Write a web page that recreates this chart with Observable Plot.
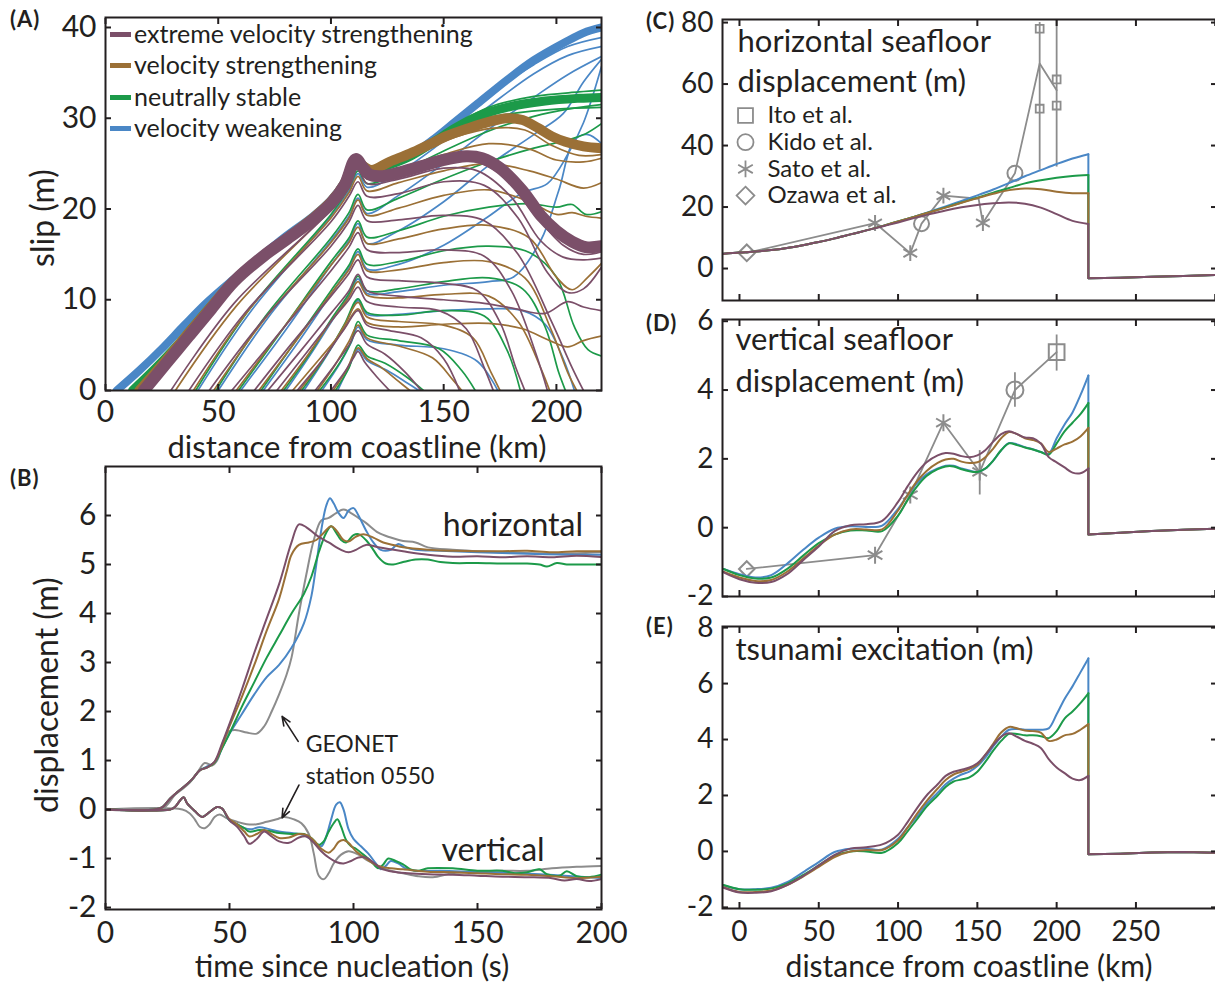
<!DOCTYPE html>
<html><head><meta charset="utf-8">
<script src="https://cdn.jsdelivr.net/npm/d3@7"></script>
<script src="https://cdn.jsdelivr.net/npm/@observablehq/plot@0.6"></script>
<style>
html,body{margin:0;padding:0;background:#fff;overflow:hidden;}
#fig{position:relative;width:1215px;height:984px;font-family:Lato,"Open Sans",sans-serif;color:#231f20;overflow:hidden;}
.panel{position:absolute;}
.plet{position:absolute;font-size:22px;font-weight:bold;line-height:1;letter-spacing:1px;}
.ttl{position:absolute;font-size:31px;white-space:nowrap;line-height:0.9;transform:translate(-50%,-50%);}
.ttl.low{font-size:30px;}
.ttl.rot{transform:translate(-50%,-50%) rotate(-90deg);font-size:32px;}
.leg{position:absolute;font-size:25px;white-space:nowrap;line-height:1;}
.leg i{position:absolute;left:-24px;top:50%;width:21px;height:5px;margin-top:-2px;}
</style></head><body><div id="fig"></div>
<script>
// ---------------- colours ----------------
const INK = "#231f20";
const C_PURPLE = "#7b4f69", C_BROWN = "#9b7036", C_GREEN = "#1c9a49", C_BLUE = "#4a87c6", C_GRAY = "#8c8c8c";

// ---------------- Panel A: slip snapshots [km, m] ----------------
const slipBlueThin = [
 [[103,0],[108,2.6],[112,4.5],[116,3.3],[125,2.2],[134,0.8],[139,0]],
 [[96,0],[104,3],[109,5.3],[112,7],[116,5.6],[130,5],[150,4.6],[165,3.2],[174,0]],
 [[88,0],[98,3.8],[106,7.1],[112,9.9],[116,8.4],[130,8.4],[150,8.8],[170,9],[185,8.8],[195,7.3],[203,3.5],[208,0]],
 [[80,0],[91,4],[100,7.5],[108,10.5],[112,12.3],[116,10.7],[130,10.9],[150,11.6],[170,12],[181,12.5],[193,16.5],[201,22],[208,27.6],[214,28.2],[220,27.2]],
 [[70,0],[86,5.5],[100,10.6],[108,13.5],[112,15.3],[116,13.4],[130,13.9],[150,16],[170,19.2],[185,21.8],[196,22.8],[205,26],[212,29.5],[220,35.7]],
 [[60,0],[80,6.7],[100,13.8],[108,16.5],[112,18.4],[116,16.2],[130,17.6],[150,20.8],[170,24.8],[190,28.2],[203,30.5],[212,34],[220,36.5]],
 [[50,0],[72,8],[100,16.5],[108,19.2],[112,21.2],[116,19.5],[130,21.5],[150,25],[170,28.8],[190,32.3],[205,34.8],[220,36.8]],
 [[41,0],[65,8.9],[100,19.2],[108,22],[112,23.9],[116,22.4],[130,24],[150,27.5],[170,31.3],[190,34.9],[205,36.9],[220,37.9]],
 [[111,25.3],[118,24.2],[135,25.7],[155,29.4],[170,32.6],[190,35.9],[205,37.9],[220,38.9]]
];
const slipGreenThin = [
 [[102,0],[108,2.5],[112,5],[116,3.8],[124,3],[134,1.4],[141,0]],
 [[95,0],[104,3.1],[109,5.4],[112,7.6],[116,6.1],[130,5.5],[148,4.6],[158,2.2],[164,0]],
 [[87,0],[98,3.9],[106,7.3],[112,10.1],[116,8.6],[130,8.3],[150,8.8],[168,8.2],[178,4.5],[184,0]],
 [[79,0],[91,4.2],[100,7.8],[108,10.7],[112,12.6],[116,11],[130,11.2],[150,12],[170,12.4],[185,11.2],[195,7],[201,2],[204,0]],
 [[69,0],[85,5.7],[100,11],[108,13.8],[112,15.6],[116,13.9],[130,14.2],[150,15.4],[170,15.9],[188,15.2],[200,12.5],[208,7],[214,4.5],[220,3.8]],
 [[59,0],[79,6.9],[100,14.2],[108,16.8],[112,18.7],[116,16.9],[130,17.6],[150,19.2],[170,20.2],[188,20.6],[200,20.2],[207,20.5],[213,19.4],[220,19.7]],
 [[49,0],[71,8.2],[100,16.8],[108,19.6],[112,21.6],[116,19.9],[130,21.2],[150,23.3],[170,25.2],[190,26.7],[205,27.6],[213,28.3],[220,29.4]],
 [[40,0],[64,9],[100,19.4],[108,22.3],[112,24.2],[116,22.8],[130,24],[150,26.4],[170,28.6],[190,30.2],[205,31],[220,31.5]],
 [[111,25.3],[118,24.2],[135,25.6],[155,28.6],[165,29.8],[180,30.5],[200,31],[220,31.2]],
 [[111,25.3],[118,24.3],[135,25.9],[155,29.2],[170,31.2],[190,32.4],[210,32.9],[220,33.1]]
];
const slipBrownThin = [
 [[101,0],[107,2.3],[112,4.7],[116,3.5],[122,2.6],[130,1],[135,0]],
 [[94,0],[102,2.9],[108,5.4],[112,7.2],[116,5.8],[130,4.9],[145,3.6],[154,1.2],[158,0]],
 [[86,0],[97,3.6],[106,7.2],[112,9.7],[116,8.1],[130,7.6],[150,7.2],[163,5.8],[171,2],[175,0]],
 [[83,0],[95,3.5],[105,6.5],[112,9],[116,7.5],[130,7],[150,7.3],[170,7.4],[185,6.8],[197,5.5],[205,4.8],[212,5.5],[220,6]],
 [[78,0],[90,4],[100,7.6],[108,10.3],[112,12],[116,10.5],[130,10.2],[150,10.6],[170,10.4],[183,7.6],[193,2.5],[197,0]],
 [[68,0],[84,5.3],[100,10.7],[108,13.3],[112,15],[116,13.2],[130,13.3],[150,14.1],[170,14.2],[186,12.4],[198,6.5],[205,2],[209,0]],
 [[58,0],[78,6.6],[100,13.8],[108,16.3],[112,18],[116,16.2],[130,16.7],[150,17.8],[170,18.2],[188,16.8],[200,12.5],[207,11.1],[214,12.5],[220,14]],
 [[48,0],[71,8],[100,16.3],[108,19],[112,21],[116,19.3],[130,20.1],[150,21.5],[170,22.1],[188,20.8],[200,19.4],[207,19.6],[213,19.2],[220,19]],
 [[39,0],[63,8.7],[100,19],[108,21.8],[112,23.6],[116,22],[130,22.9],[150,24.2],[170,25],[188,24.2],[200,23.3],[212,22.3],[220,22.9]],
 [[31,0],[58,9.3],[100,20.1],[108,22.9],[112,24.8],[116,23.3],[130,24.4],[150,26],[170,27.2],[188,26.6],[200,25.4],[212,25.2],[220,25.6]],
 [[111,25.2],[118,24.1],[135,25.8],[155,27.9],[172,28.9],[186,28.7],[198,27],[210,25.9],[220,26]]
];
const slipPurpleThin = [
 [[100,0],[106,2],[110,3.6],[112,4.3],[115,3.1],[120,1.6],[126,0]],
 [[93,0],[101,2.6],[108,5],[112,6.6],[116,5.1],[124,4],[133,2],[140,0]],
 [[85,0],[96,3.3],[106,6.8],[112,8.8],[116,7.2],[126,6.6],[140,5.8],[150,3.5],[157,0]],
 [[76,0],[88,3.8],[100,7.6],[108,10],[112,11.4],[116,9.8],[130,9.2],[148,8.8],[160,6.8],[168,2.5],[172,0]],
 [[72,0],[86,4.2],[100,8.5],[108,11],[112,12.8],[116,11],[130,10.4],[150,10],[168,9.6],[182,9],[195,8.5],[205,9.8],[212,9.2],[220,8.8]],
 [[66,0],[82,5],[100,10.4],[108,12.9],[112,14.4],[116,12.5],[130,12.1],[150,11.8],[165,11],[175,7.5],[182,2.5],[186,0]],
 [[56,0],[77,6.3],[100,13.2],[108,15.8],[112,17.4],[116,15.5],[130,15.2],[150,15.5],[168,14.8],[180,11],[191,4],[196,0]],
 [[46,0],[70,7.8],[100,15.9],[108,18.6],[112,20.4],[116,18.7],[130,18.8],[150,19.3],[168,18.7],[183,15],[198,7.5],[207,2.5],[212,0]],
 [[37,0],[62,8.6],[100,18.6],[108,21.4],[112,23],[116,21.4],[130,21.7],[150,23],[168,22.6],[183,19],[196,13],[205,10.8],[212,11.2],[220,13.6]],
 [[29,0],[57,9.6],[100,19.9],[108,22.6],[112,24.5],[116,22.8],[130,23.3],[150,24.5],[165,24.2],[180,21.3],[193,16.5],[203,14.7],[212,14.4],[220,14.6]],
 [[111,25],[117,23.6],[130,23.8],[150,25.1],[163,25.3],[176,23.7],[190,19.5],[203,16],[212,15],[220,15.3]]
];
const slipBlueFinal = [[5,0],[15,2.2],[25,4.6],[35,7.2],[45,9.7],[57,12.3],[70,15],[80,17],[92,19.2],[100,21],[106,23],[111,25.5],[114,24.8],[118,24.3],[125,24.8],[135,25.9],[145,27.6],[155,29.6],[165,31.6],[178,34.2],[190,36.4],[204,38.4],[212,39.4],[220,40]];
const slipGreenFinal = [[12,0],[22,2.4],[32,5],[45,8.8],[57,12],[70,14.8],[80,16.7],[92,19],[100,20.8],[106,22.8],[111,25.5],[114,24.8],[118,24.3],[125,24.8],[135,25.8],[145,27.3],[155,28.9],[165,30.2],[178,31.2],[195,31.9],[210,32.2],[220,32.3]];
const slipBrownFinal = [[15,0],[25,2.8],[35,5.8],[45,8.7],[57,12.1],[70,14.8],[80,16.7],[92,19],[100,20.8],[106,22.8],[111,25.5],[114,24.8],[118,24.3],[126,25.2],[135,26.1],[143.6,27.1],[152,28.1],[161,28.9],[170,29.6],[178,30],[185,29.8],[192,28.9],[198,28],[204,27.4],[212,26.9],[220,26.7]];
const slipPurpleFinal = [[17,0],[27,3],[37,6],[47,9],[57,12],[70,14.8],[80,16.6],[92,18.8],[100,20.6],[106,22.6],[111,25.5],[114,24.6],[117,23.8],[122,23.6],[130,24],[140,24.7],[150,25.4],[160,25.8],[167,25.6],[175,24.5],[185,22],[193,19.3],[200,17.6],[207,16.4],[213,15.8],[220,15.9]];
const legendA = ["extreme velocity strengthening","velocity strengthening","neutrally stable","velocity weakening"];
const ticksA_x = [0,50,100,150,200], ticksA_y = [0,10,20,30,40];

// ---------------- Panel B: displacement time series [s, m] ----------------
const horPurple = [[0,0],[20,0],[23,0.05],[26,0.22],[29,0.36],[32,0.48],[35,0.62],[38,0.8],[41,0.86],[44,0.98],[47,1.35],[50,1.75],[55,2.45],[60,3.2],[65,3.9],[70,4.6],[75,5.45],[78,5.82],[81,5.76],[85,5.6],[90,5.45],[95,5.3],[98,5.25],[101,5.3],[105,5.4],[110,5.35],[120,5.27],[130,5.2],[140,5.16],[150,5.17],[160,5.15],[170,5.17],[180,5.15],[190,5.18],[200,5.15]];
const horBrown = [[0,0],[20,0],[23,0.05],[26,0.22],[29,0.36],[32,0.48],[35,0.62],[38,0.8],[41,0.86],[44,0.97],[47,1.3],[50,1.7],[55,2.3],[60,2.95],[65,3.65],[70,4.3],[73,4.85],[75,5.2],[78,5.4],[82,5.45],[85,5.5],[88,5.65],[91,5.78],[93,5.7],[96,5.5],[98,5.47],[101,5.57],[104,5.62],[108,5.55],[112,5.45],[116,5.4],[120,5.35],[130,5.3],[140,5.28],[150,5.27],[160,5.27],[170,5.28],[180,5.25],[190,5.27],[200,5.27]];
const horGreen = [[0,0],[20,0],[23,0.05],[26,0.22],[29,0.36],[32,0.48],[35,0.62],[38,0.8],[41,0.86],[44,0.96],[47,1.25],[50,1.55],[55,2.1],[60,2.6],[65,3.1],[70,3.55],[75,4],[80,4.4],[83,4.75],[86,5.25],[89,5.65],[91,5.78],[93,5.65],[95,5.5],[97,5.45],[100,5.6],[102,5.62],[105,5.5],[108,5.3],[110,5.15],[113,5.02],[116,5],[120,5.05],[125,5.1],[130,5.1],[135,5.05],[140,5.03],[150,5.03],[160,5.02],[170,5.02],[175,5],[178,4.96],[182,5.03],[186,5],[190,5],[195,5],[200,5]];
const horBlue = [[0,0],[20,0],[23,0.05],[26,0.22],[29,0.36],[32,0.48],[35,0.62],[38,0.8],[41,0.88],[44,0.96],[47,1.25],[50,1.55],[55,1.95],[60,2.35],[65,2.7],[70,2.95],[75,3.3],[80,3.8],[83,4.35],[85,5],[87,5.7],[89,6.2],[90.5,6.35],[92,6.25],[94,6.05],[96,5.95],[98,6.1],[100,6.15],[102,6],[105,5.7],[108,5.45],[111,5.3],[115,5.3],[118,5.42],[121,5.35],[125,5.3],[135,5.28],[150,5.25],[170,5.22],[190,5.2],[200,5.2]];
const horGray = [[0,0],[22,0],[25,0.1],[28,0.3],[31,0.42],[34,0.55],[37,0.75],[40,0.95],[43,0.9],[45,1],[48,1.45],[50,1.6],[53,1.62],[57,1.57],[61,1.55],[64,1.7],[67,2],[70,2.35],[73,2.75],[75,3.1],[78,4],[81,4.8],[84,5.5],[87,5.9],[90,5.95],[93,6.05],[96,6.12],[99,6.05],[102,5.95],[105,5.85],[110,5.65],[115,5.55],[120,5.48],[125,5.45],[130,5.35],[140,5.3],[160,5.25],[180,5.22],[200,5.25]];
const verPurple = [[0,0],[26,0],[28,0.05],[30,0.18],[31.5,0.25],[33,0.12],[36,-0.03],[39,-0.15],[42,-0.05],[45,0.05],[47,0.02],[50,-0.22],[53,-0.35],[56,-0.55],[58,-0.7],[61,-0.6],[64,-0.45],[67,-0.55],[70,-0.65],[74,-0.68],[78,-0.57],[81,-0.55],[84,-0.68],[87,-0.85],[90,-0.98],[93,-1.07],[96,-1.1],[99,-1.05],[102,-0.98],[105,-0.98],[108,-1.08],[111,-1.2],[116,-1.27],[122,-1.3],[130,-1.32],[140,-1.33],[150,-1.35],[160,-1.37],[170,-1.38],[180,-1.4],[185,-1.45],[190,-1.42],[195,-1.46],[200,-1.42]];
const verBrown = [[0,0],[26,0],[28,0.05],[30,0.18],[31.5,0.25],[33,0.12],[36,-0.03],[39,-0.15],[42,-0.05],[45,0.05],[47,0.02],[50,-0.2],[53,-0.3],[56,-0.45],[58,-0.55],[61,-0.5],[64,-0.42],[67,-0.5],[70,-0.58],[74,-0.57],[78,-0.5],[81,-0.52],[84,-0.63],[87,-0.8],[90,-0.88],[92,-0.8],[94,-0.66],[96,-0.62],[98,-0.68],[101,-0.85],[105,-1],[110,-1.15],[115,-1.2],[120,-1.22],[130,-1.27],[140,-1.28],[150,-1.3],[160,-1.32],[170,-1.33],[180,-1.36],[190,-1.4],[200,-1.37]];
const verGreen = [[0,0],[26,0],[28,0.05],[30,0.18],[31.5,0.25],[33,0.12],[36,-0.03],[39,-0.15],[42,-0.05],[45,0.05],[47,0.02],[50,-0.22],[53,-0.3],[56,-0.38],[58,-0.45],[62,-0.42],[66,-0.44],[70,-0.48],[75,-0.5],[80,-0.5],[83,-0.58],[86,-0.72],[88,-0.65],[90,-0.45],[92,-0.28],[93.5,-0.2],[95,-0.35],[97,-0.62],[99,-0.75],[101,-0.8],[104,-0.92],[107,-1.05],[110,-1.2],[112,-1.12],[114,-1],[117,-1.05],[120,-1.12],[123,-1.22],[126,-1.25],[130,-1.2],[140,-1.2],[150,-1.25],[160,-1.25],[165,-1.3],[170,-1.28],[175,-1.22],[178,-1.32],[183,-1.35],[186,-1.26],[190,-1.36],[195,-1.38],[200,-1.33]];
const verBlue = [[0,0],[26,0],[28,0.05],[30,0.18],[31.5,0.25],[33,0.12],[36,-0.03],[39,-0.15],[42,-0.05],[45,0.05],[47,0.02],[50,-0.22],[53,-0.3],[56,-0.38],[59,-0.4],[62,-0.36],[66,-0.4],[70,-0.45],[75,-0.48],[80,-0.52],[84,-0.65],[87,-0.75],[89,-0.55],[91,-0.2],[93,0.1],[94.5,0.15],[96,0],[98,-0.4],[100,-0.6],[103,-0.75],[106,-0.9],[109,-1.1],[111,-1.22],[113,-1.15],[115,-1.05],[118,-1.1],[121,-1.2],[125,-1.25],[135,-1.25],[150,-1.28],[165,-1.3],[175,-1.32],[185,-1.35],[200,-1.4]];
const verGray = [[0,0],[31,0],[34,-0.08],[36,-0.2],[38,-0.35],[40,-0.38],[42,-0.3],[44,-0.15],[46,-0.1],[49,-0.18],[53,-0.25],[57,-0.3],[61,-0.3],[65,-0.25],[69,-0.2],[72,-0.15],[76,-0.2],[79,-0.28],[82,-0.5],[84,-0.9],[86,-1.35],[88,-1.42],[90,-1.3],[92,-1.1],[95,-0.92],[98,-0.85],[102,-0.92],[106,-1.05],[110,-1.15],[115,-1.25],[120,-1.3],[126,-1.36],[132,-1.38],[140,-1.3],[150,-1.27],[160,-1.25],[170,-1.25],[180,-1.2],[190,-1.17],[200,-1.15]];
const labelsB = [{t:136, v:5.8, s:"horizontal", f:32},{t:135.5, v:-0.84, s:"vertical", f:32},{t:80.7, v:1.32, s:"GEONET", f:23},{t:80.7, v:0.67, s:"station 0550", f:23}];
const arrowsB = [{t1:77.7, v1:1.39, t2:71.2, v2:1.9},{t1:78, v1:0.5, t2:71.2, v2:-0.17}];
const ticksB_x = [0,50,100,150,200], ticksB_y = [-2,-1,0,1,2,3,4,5,6];

// ---------------- Panels C, D, E: seafloor profiles [km] ----------------
const xC = [-10,0,10,20,30,40,50,60,70,80,90,100,110,120,130,140,150,160,170,180,190,200,210,220];
const horBlueC   = [4.8,5.2,5.5,6.0,6.7,7.6,8.6,9.8,11.1,12.4,13.8,15.3,16.8,18.5,20.2,22.0,23.8,25.7,27.8,30.0,32.0,34.0,35.8,37.2];
const horGreenC  = [4.8,5.2,5.5,6.0,6.7,7.6,8.6,9.8,11.1,12.4,13.8,15.3,16.8,18.3,19.9,21.5,23.0,24.7,26.2,27.7,28.7,29.5,30.1,30.4];
const horBrownC  = [4.8,5.2,5.5,6.0,6.7,7.6,8.6,9.8,11.1,12.4,13.8,15.3,16.8,18.3,19.8,21.4,22.9,24.3,25.5,26.0,25.8,25.0,24.5,24.5];
const horPurpleC = [4.8,5.2,5.5,6.0,6.7,7.6,8.6,9.8,11.1,12.4,13.7,15.0,16.4,17.7,18.9,19.9,20.7,21.2,21.5,21.1,19.8,17.7,15.5,14.5];
const xTail = [220,240,260,280,301];
const tailC = [-3.2,-3.0,-2.7,-2.4,-2.1];
const obsLineC = [[4.6,5.1],[85.5,14.8],[107.7,5.0],[114.8,14.6],[128.6,23.7],[150.8,22.7],[153.5,14.8],[173.7,31],[189.3,66.7],[200,58]];
const obsMarksC = [{x:4.6,y:5.1,s:"diamond2"},{x:85.5,y:14.8,s:"asterisk"},{x:107.7,y:5.0,s:"asterisk"},{x:114.8,y:14.6,s:"circle"},{x:128.6,y:23.7,s:"asterisk"},{x:153.5,y:14.8,s:"asterisk"},{x:173.7,y:31,s:"circle"}];
const itoC = [{x:189.3,y:78},{x:189.3,y:52},{x:200,y:61.5},{x:200,y:53}];
const errC = [{x:189.3,lo:32,hi:80},{x:200,lo:33,hi:82}];
const legendC = [{s:"square2",t:"Ito et al."},{s:"circle",t:"Kido et al."},{s:"asterisk",t:"Sato et al."},{s:"diamond2",t:"Ozawa et al."}];

const xD = [-10,0,10,20,30,40,50,60,70,80,90,100,106,112,118,125,130,135,140,145,150,155,160,165,170,175,180,185,190,195,200,205,210,215,220];
const verBlueD   = [-1.2,-1.35,-1.45,-1.38,-1.05,-0.65,-0.29,-0.03,0.04,0.02,0.06,0.55,0.95,1.3,1.55,1.72,1.8,1.8,1.72,1.66,1.62,1.72,1.95,2.25,2.46,2.42,2.34,2.28,2.2,2.15,2.6,3.0,3.35,3.85,4.42];
const verGreenD  = [-1.2,-1.38,-1.48,-1.45,-1.2,-0.82,-0.45,-0.2,-0.08,-0.08,-0.1,0.35,0.8,1.2,1.5,1.7,1.78,1.78,1.7,1.64,1.62,1.72,1.95,2.25,2.45,2.4,2.33,2.27,2.2,2.12,2.45,2.8,3.05,3.3,3.62];
const verBrownD  = [-1.28,-1.45,-1.55,-1.52,-1.28,-0.9,-0.52,-0.2,-0.05,-0.05,-0.05,0.5,0.95,1.35,1.65,1.88,1.98,2.0,1.92,1.88,1.9,2.05,2.3,2.6,2.78,2.72,2.6,2.55,2.45,2.2,2.3,2.42,2.5,2.65,2.9];
const verPurpleD = [-1.3,-1.5,-1.6,-1.58,-1.35,-0.95,-0.55,-0.1,0.07,0.1,0.2,0.75,1.2,1.6,1.9,2.1,2.17,2.15,2.08,2.05,2.1,2.25,2.5,2.72,2.8,2.72,2.62,2.6,2.45,2.05,1.9,1.75,1.6,1.58,1.72];
const tailD = [-0.2,-0.15,-0.1,-0.06,-0.03];
const obsLineD = [[4.6,-1.2],[85.5,-0.8],[107.7,0.95],[128.6,3.05],[151.5,1.62],[173.7,4.0],[200,5.1]];
const obsMarksD = [{x:4.6,y:-1.2,s:"diamond2",r:7},{x:85.5,y:-0.8,s:"asterisk",r:8},{x:107.7,y:0.95,s:"asterisk",r:8},{x:128.6,y:3.05,s:"asterisk",r:8},{x:151.5,y:1.62,s:"asterisk",r:8},{x:173.7,y:4.0,s:"circle",r:8.5},{x:200,y:5.1,s:"square2",r:10}];
const errD = [{x:151.5,lo:0.95,hi:2.24},{x:173.7,lo:3.5,hi:4.5},{x:200,lo:4.55,hi:5.6}];

const tsuBlueE   = [-1.22,-1.35,-1.35,-1.3,-1.1,-0.75,-0.38,-0.02,0.1,0.1,0.07,0.45,0.85,1.25,1.7,2.1,2.4,2.6,2.75,2.85,3.05,3.35,3.75,4.1,4.35,4.38,4.35,4.35,4.35,4.4,4.9,5.45,5.9,6.4,6.9];
const tsuGreenE  = [-1.2,-1.35,-1.37,-1.33,-1.15,-0.85,-0.5,-0.15,0.0,0.0,-0.05,0.3,0.72,1.15,1.6,2.0,2.3,2.5,2.57,2.65,2.85,3.2,3.6,3.95,4.2,4.2,4.15,4.15,4.12,4.05,4.3,4.75,5.0,5.3,5.65];
const tsuBrownE  = [-1.28,-1.45,-1.45,-1.4,-1.2,-0.9,-0.55,-0.2,0.0,0.05,0.05,0.4,0.85,1.35,1.8,2.25,2.55,2.75,2.85,2.95,3.1,3.45,3.85,4.25,4.45,4.4,4.32,4.3,4.25,3.95,4.0,4.15,4.2,4.35,4.55];
const tsuPurpleE = [-1.3,-1.47,-1.48,-1.42,-1.2,-0.88,-0.5,-0.12,0.1,0.15,0.25,0.6,1.05,1.55,2.0,2.4,2.7,2.85,2.92,3.0,3.15,3.45,3.8,4.1,4.22,4.1,3.95,3.85,3.7,3.3,3.0,2.8,2.6,2.55,2.7];
const tailE = [-0.1,-0.08,-0.04,-0.02,-0.05];
const ticksR_x = [0,50,100,150,200,250,300];
const ticksC_y = [0,20,40,60,80], ticksD_y = [-2,0,2,4,6], ticksE_y = [-2,0,2,4,6,8];

// ---------------- helpers ----------------
const FONT = "Lato, 'Open Sans', sans-serif";
const fig = document.getElementById("fig");
function place(svg, left, top, w) {
  const d = document.createElement("div");
  d.className = "panel"; d.style.left = left + "px"; d.style.top = top + "px"; d.style.width = w + "px";
  d.appendChild(svg); fig.appendChild(d);
}
function html(cls, text, left, top, extra) {
  const d = document.createElement("div");
  d.className = cls; d.textContent = text; d.style.left = left + "px"; d.style.top = top + "px";
  if (extra) Object.assign(d.style, extra);
  fig.appendChild(d); return d;
}
function boxAxes(xt, yt, {xLabels = true, xPad = 20, yPad = 15, fs = 30} = {}) {
  return [
    Plot.axisX(xt, {anchor: "bottom", tickSize: -6, tickPadding: xPad, strokeWidth: 2, label: null, fontSize: fs, fill: INK,
      tickFormat: xLabels ? (d) => String(d) : () => ""}),
    Plot.axisX(xt, {anchor: "top", tickSize: -6, strokeWidth: 2, label: null, tickFormat: () => ""}),
    Plot.axisY(yt, {anchor: "left", tickSize: -6, tickPadding: yPad, strokeWidth: 2, label: null, fontSize: fs, fill: INK,
      tickFormat: (d) => String(d)}),
    Plot.axisY(yt, {anchor: "right", tickSize: -6, strokeWidth: 2, label: null, tickFormat: () => ""}),
    Plot.frame({stroke: INK, strokeWidth: 2})
  ];
}
const rowsOf = (curves) => curves.flatMap((c, k) => c.map(([x, y]) => ({x, y, k})));
const pairsRows = (pairs) => pairs.map(([x, y]) => ({x, y}));
const zipRows = (xs, ys) => xs.map((x, i) => ({x, y: ys[i]}));
const tailRows = (last, tail) => [{x: xTail[0], y: last}, ...zipRows(xTail, tail)];
const baseStyle = {fontFamily: FONT, fontSize: "30px", color: INK, background: "transparent", overflow: "visible"};

// ---------------- Panel A ----------------
{
  const thin = (curves, stroke) => Plot.line(rowsOf(curves), {x: "x", y: "y", z: "k", stroke, strokeWidth: 1.7, curve: "catmull-rom", clip: true});
  const thick = (pts, stroke, w) => Plot.line(pairsRows(pts), {x: "x", y: "y", stroke, strokeWidth: w, curve: "catmull-rom", clip: true});
  const svg = Plot.plot({
    width: 620, height: 470, marginLeft: 105, marginRight: 19, marginTop: 17, marginBottom: 80,
    x: {domain: [0, 220]}, y: {domain: [0, 41.1]}, style: baseStyle,
    marks: [
      thin(slipBlueThin, C_BLUE), thin(slipGreenThin, C_GREEN), thin(slipBrownThin, C_BROWN), thin(slipPurpleThin, C_PURPLE),
      thick(slipBlueFinal, C_BLUE, 8), thick(slipGreenFinal, C_GREEN, 9), thick(slipBrownFinal, C_BROWN, 10), thick(slipPurpleFinal, C_PURPLE, 12),
      ...boxAxes(ticksA_x, ticksA_y, {xPad: 16})
    ]
  });
  place(svg, 0, 0, 620);
  const legCols = [C_PURPLE, C_BROWN, C_GREEN, C_BLUE];
  legendA.forEach((t, i) => {
    const d = html("leg", t, 134, [21, 52, 84, 115][i]);
    const b = document.createElement("i"); b.style.background = legCols[i]; d.appendChild(b);
  });
}

// ---------------- Panel B ----------------
{
  const ln = (pts, stroke) => Plot.line(pairsRows(pts), {x: "x", y: "y", stroke, strokeWidth: 2, curve: "catmull-rom", clip: true});
  const svg = Plot.plot({
    width: 620, height: 540, marginLeft: 105, marginRight: 19, marginTop: 26, marginBottom: 71,
    x: {domain: [0, 200]}, y: {domain: [-2.04, 7.0]}, style: baseStyle,
    marks: [
      ln(horGray, C_GRAY), ln(verGray, C_GRAY),
      ln(horBlue, C_BLUE), ln(verBlue, C_BLUE),
      ln(horGreen, C_GREEN), ln(verGreen, C_GREEN),
      ln(horBrown, C_BROWN), ln(verBrown, C_BROWN),
      ln(horPurple, C_PURPLE), ln(verPurple, C_PURPLE),
      Plot.arrow(arrowsB, {x1: "t1", y1: "v1", x2: "t2", y2: "v2", stroke: INK, strokeWidth: 1.6, headLength: 9, headAngle: 45}),
      Plot.text(labelsB, {x: "t", y: "v", text: "s", fontSize: "f", textAnchor: "start", fill: INK}),
      ...boxAxes(ticksB_x, ticksB_y, {xPad: 18})
    ]
  });
  place(svg, 0, 440, 620);
}

// ---------------- Panels C, D, E ----------------
function profile({top, height, mt, mb, ydom, yt, series, tail, xLabels, extra}) {
  const marks = [];
  for (const [ys, stroke] of series) {
    marks.push(Plot.line(zipRows(xC.length === ys.length ? xC : xD, ys), {x: "x", y: "y", stroke, strokeWidth: 2, curve: "catmull-rom", clip: true}));
    marks.push(Plot.line(tailRows(ys[ys.length - 1], tail), {x: "x", y: "y", stroke, strokeWidth: 2, clip: true}));
  }
  const svg = Plot.plot({
    width: 600, height, marginLeft: 82, marginRight: 24, marginTop: mt, marginBottom: mb,
    x: {domain: [-10.7, 300.8]}, y: {domain: ydom}, r: {type: "identity"}, style: baseStyle,
    marks: [...extra(), ...marks, ...boxAxes(ticksR_x.filter(d => d <= 250 || !xLabels), yt, {xLabels, xPad: 19, fs: 28})]
  });
  place(svg, 640, top, 600);
}
const obsStyle = {stroke: C_GRAY, strokeWidth: 1.8};
// C
profile({top: 0, height: 330, mt: 19, mb: 30, ydom: [-10.4, 81], yt: ticksC_y, tail: tailC, xLabels: false,
  series: [[horBlueC, C_BLUE], [horGreenC, C_GREEN], [horBrownC, C_BROWN], [horPurpleC, C_PURPLE]],
  extra: () => [
    Plot.text(["horizontal seafloor"], {frameAnchor: "top-left", dx: 15, dy: 23, textAnchor: "start", lineAnchor: "middle", fontSize: 31, fill: INK}),
    Plot.text(["displacement (m)"], {frameAnchor: "top-left", dx: 15, dy: 63, textAnchor: "start", lineAnchor: "middle", fontSize: 31, fill: INK}),
    ...legendC.map((e, i) => Plot.dot([e], {frameAnchor: "top-left", dx: 23, dy: 96 + i * 26.7, symbol: e.s, r: e.s === "square2" ? 9.5 : 8, fill: "none", ...obsStyle})),
    ...legendC.map((e, i) => Plot.text([e.t], {frameAnchor: "top-left", dx: 45, dy: 96 + i * 26.7, textAnchor: "start", lineAnchor: "middle", fontSize: 24, fill: INK})),
    Plot.ruleX(errC, {x: "x", y1: "lo", y2: "hi", ...obsStyle, clip: true}),
    Plot.line(pairsRows(obsLineC), {x: "x", y: "y", ...obsStyle}),
    Plot.dot(obsMarksC, {x: "x", y: "y", symbol: "s", r: 7.5, fill: "none", stroke: C_GRAY, strokeWidth: 2}),
    Plot.dot(itoC, {x: "x", y: "y", symbol: "square2", r: 5, fill: "none", stroke: C_GRAY, strokeWidth: 1.8})
  ]});
// D
profile({top: 300, height: 320, mt: 19, mb: 24, ydom: [-2, 6.05], yt: ticksD_y, tail: tailD, xLabels: false,
  series: [[verBlueD, C_BLUE], [verGreenD, C_GREEN], [verBrownD, C_BROWN], [verPurpleD, C_PURPLE]],
  extra: () => [
    Plot.text(["vertical seafloor"], {frameAnchor: "top-left", dx: 13, dy: 21, textAnchor: "start", lineAnchor: "middle", fontSize: 31, fill: INK}),
    Plot.text(["displacement (m)"], {frameAnchor: "top-left", dx: 13, dy: 63, textAnchor: "start", lineAnchor: "middle", fontSize: 31, fill: INK}),
    Plot.ruleX(errD, {x: "x", y1: "lo", y2: "hi", ...obsStyle}),
    Plot.line(pairsRows(obsLineD), {x: "x", y: "y", ...obsStyle}),
    Plot.dot(obsMarksD, {x: "x", y: "y", symbol: "s", r: "r", fill: "none", stroke: C_GRAY, strokeWidth: 2})
  ]});
// E
profile({top: 600, height: 384, mt: 26, mb: 76, ydom: [-2.04, 8.04], yt: ticksE_y, tail: tailE, xLabels: true,
  series: [[tsuBlueE, C_BLUE], [tsuGreenE, C_GREEN], [tsuBrownE, C_BROWN], [tsuPurpleE, C_PURPLE]],
  extra: () => [
    Plot.text(["tsunami excitation (m)"], {frameAnchor: "top-left", dx: 13, dy: 24, textAnchor: "start", lineAnchor: "middle", fontSize: 31, fill: INK})
  ]});

// ---------------- titles & panel letters ----------------
html("ttl", "distance from coastline (km)", 357, 447);
html("ttl rot", "slip (m)", 42, 218, {});
html("ttl low", "time since nucleation (s)", 352, 965);
html("ttl rot", "displacement (m)", 46, 695);
html("ttl low", "distance from coastline (km)", 969, 965);
html("plet", "(A)", 10, 8);
html("plet", "(B)", 10, 467);
html("plet", "(C)", 646, 10);
html("plet", "(D)", 646, 312);
html("plet", "(E)", 646, 615);
</script></body></html>
